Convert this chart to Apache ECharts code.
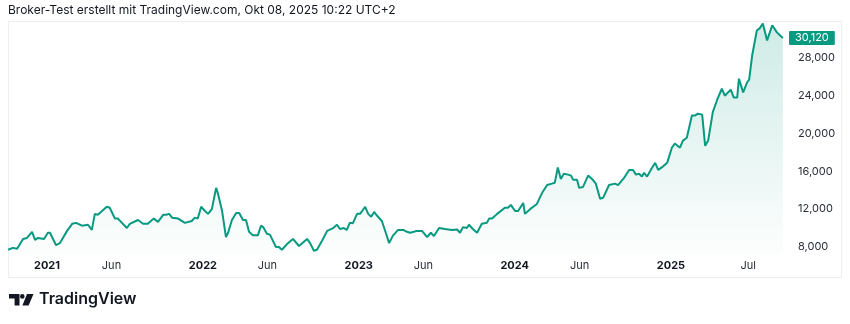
<!DOCTYPE html>
<html>
<head>
<meta charset="utf-8">
<script src="https://cdn.jsdelivr.net/npm/echarts@6/dist/echarts.min.js"></script>
<style>
html,body{margin:0;padding:0;background:#fff;}
#chart{width:850px;height:324px;}
</style>
</head>
<body>
<div id="chart"></div>
<script>
const dates = [
'2020-10-02','2020-10-13','2020-10-23','2020-11-06','2020-11-15','2020-11-27','2020-12-04','2020-12-11','2020-12-25',
'2021-01-03','2021-01-08','2021-01-22','2021-01-31','2021-02-17','2021-03-01','2021-03-10','2021-03-24','2021-04-07',
'2021-04-16','2021-04-23','2021-04-30','2021-05-21','2021-05-28','2021-06-09','2021-06-16','2021-07-07','2021-07-14',
'2021-08-02','2021-08-14','2021-08-25','2021-09-08','2021-09-18','2021-09-30','2021-10-07','2021-10-14','2021-10-21',
'2021-11-04','2021-11-20','2021-12-06','2021-12-13','2021-12-20','2021-12-28',
'2022-01-06','2022-01-13','2022-01-22','2022-02-01','2022-02-05','2022-02-15','2022-02-24','2022-03-01','2022-03-10',
'2022-03-20','2022-03-27','2022-04-05','2022-04-12','2022-04-19','2022-04-28','2022-05-10','2022-05-17','2022-05-22',
'2022-05-31','2022-06-07','2022-06-21','2022-06-28','2022-07-05','2022-07-17','2022-07-31','2022-08-14','2022-09-02',
'2022-09-09','2022-09-18','2022-09-25','2022-10-07','2022-10-19','2022-10-23','2022-11-02','2022-11-11','2022-11-18',
'2022-11-27','2022-12-04','2022-12-11','2022-12-18','2022-12-28',
'2023-01-04','2023-01-16','2023-01-23','2023-01-30','2023-02-06','2023-02-13','2023-02-17','2023-02-24','2023-03-06',
'2023-03-13','2023-03-22','2023-04-03','2023-04-15','2023-04-24','2023-05-01','2023-05-10','2023-05-17','2023-05-29',
'2023-06-10','2023-06-19','2023-06-26','2023-07-08','2023-07-22','2023-08-07','2023-08-19','2023-08-26','2023-09-02',
'2023-09-11','2023-09-16','2023-09-25','2023-10-05','2023-10-16','2023-10-28','2023-11-02','2023-11-09','2023-11-21',
'2023-12-09','2023-12-16','2023-12-23',
'2024-01-02','2024-01-09','2024-01-21','2024-01-25','2024-02-06','2024-02-22','2024-03-05','2024-03-17','2024-03-28',
'2024-04-04','2024-04-11','2024-04-18','2024-04-25','2024-05-05','2024-05-12','2024-05-17','2024-05-26','2024-05-31',
'2024-06-09','2024-06-21','2024-07-02','2024-07-09','2024-07-19','2024-07-26','2024-08-09','2024-08-23','2024-08-30',
'2024-09-13','2024-09-25','2024-10-04','2024-10-11','2024-10-18','2024-10-25','2024-10-30','2024-11-06','2024-11-18',
'2024-11-25','2024-12-02','2024-12-13','2024-12-23',
'2025-01-03','2025-01-10','2025-01-22','2025-01-29','2025-02-07','2025-02-19','2025-02-26','2025-03-05','2025-03-15',
'2025-03-22','2025-03-29','2025-04-09','2025-04-19','2025-04-30','2025-05-07','2025-05-21','2025-05-28','2025-06-05',
'2025-06-09','2025-06-19','2025-06-28','2025-07-03','2025-07-10','2025-07-14','2025-07-21','2025-07-28','2025-08-04',
'2025-08-14','2025-08-18','2025-08-26','2025-09-06','2025-09-13','2025-09-20'
];
const values = [
7700,7900,7800,8850,8950,9600,8750,8950,8850,
9500,9500,8200,8400,9700,10450,10550,10250,10350,
9800,11500,11400,12250,12150,11000,11000,10000,10450,
10850,10450,10450,11000,10650,11400,11400,11500,11100,
11000,10550,10750,11100,11000,12250,
11800,11500,12000,14250,13700,11800,9050,9500,10850,
11600,11600,10850,10850,9600,9250,9250,10250,10100,
9400,9300,8000,8000,7700,8300,8850,8100,8850,
8400,7600,7700,8650,9700,9600,10000,10350,9900,
10000,9800,10550,10500,11500,
11500,12250,11500,11200,11700,11300,11500,10750,9400,
8400,9200,9800,9800,9600,9500,9600,9700,9700,
9050,9500,9150,10000,9900,9800,9850,9500,10100,
10000,10350,9900,9500,10450,10550,11000,11000,11500,
12150,12150,12450,
11800,11800,12650,11500,12000,12550,13700,14550,14700,
14800,16400,15200,15750,15650,15550,15100,15100,14250,
14350,15550,15100,14700,13100,13200,14550,14700,14550,
15300,16150,16150,15650,15750,15450,15850,15450,16400,
16900,16150,16500,16900,
18500,18950,18500,19250,19550,21900,21900,22100,22000,
18700,19250,22300,23550,24750,24000,24650,23800,23800,
25800,24350,25400,25700,28250,28050,30900,31150,31650,
29850,29750,31450,30700,30400,30120
];
const xTickDates = ['2021-01-01','2021-06-01','2022-01-01','2022-06-01','2023-01-01','2023-06-01','2024-01-01','2024-06-01','2025-01-01','2025-07-01'];
const xTickLabels = ['2021','Jun','2022','Jun','2023','Jun','2024','Jun','2025','Jul'];
const yTickValues = [8000,12000,16000,20000,24000,28000];
const titleText = 'Broker-Test erstellt mit TradingView.com, Okt 08, 2025 10:22 UTC+2';

const ts = d => new Date(d + 'T00:00:00Z').getTime();
const seriesData = dates.map((d, i) => [ts(d), values[i]]);
const tickTs = xTickDates.map(ts);
const lastValue = values[values.length - 1];
const fmt = v => Math.round(v).toLocaleString('en-US');
const FONT = 'Inter, Roboto, sans-serif';

const chart = echarts.init(document.getElementById('chart'), null, {renderer: 'canvas'});
chart.setOption({
  animation: false,
  backgroundColor: '#ffffff',
  grid: {left: 8, right: 66, top: 22, height: 234.4},
  xAxis: {
    type: 'value',
    min: new Date('2020-10-01T17:00:00Z').getTime(),
    max: new Date('2025-09-22T14:00:00Z').getTime(),
    axisLine: {show: false},
    axisTick: {show: false},
    splitLine: {show: false},
    axisLabel: {
      customValues: tickTs,
      margin: 4,
      fontFamily: FONT,
      fontSize: 11,
      formatter: function (v) {
        let best = 0;
        tickTs.forEach((t, i) => { if (Math.abs(t - v) < Math.abs(tickTs[best] - v)) best = i; });
        const lab = xTickLabels[best];
        return /^\d{4}$/.test(lab) ? '{y|' + lab + '}' : '{m|' + lab + '}';
      },
      rich: {
        y: {fontFamily: FONT, fontSize: 11, fontWeight: 'bold', color: '#131722'},
        m: {fontFamily: FONT, fontSize: 11, color: '#2a2e39'}
      }
    }
  },
  yAxis: {
    type: 'value',
    position: 'right',
    min: 7000,
    max: 31800,
    axisLine: {show: false},
    axisTick: {show: false},
    splitLine: {show: false},
    axisLabel: {
      customValues: yTickValues,
      margin: 14,
      fontFamily: FONT,
      fontSize: 11,
      color: '#2a2e39',
      formatter: v => fmt(v)
    }
  },
  graphic: [
    {type: 'rect', z: -1, silent: true, shape: {x: 8.5, y: 21.5, width: 833, height: 256}, style: {fill: 'none', stroke: '#eceef2', lineWidth: 1}},
    {type: 'text', left: 8, top: 4, silent: true, style: {text: titleText, fontFamily: FONT, fontSize: 12, fill: '#131722'}},
    {type: 'polygon', silent: true, shape: {points: [[9,294],[19.5,294],[19.5,305.5],[14.6,305.5],[14.6,298.6],[9,298.6]]}, style: {fill: '#131722'}},
    {type: 'circle', silent: true, shape: {cx: 22.3, cy: 296.4, r: 2.3}, style: {fill: '#131722'}},
    {type: 'polygon', silent: true, shape: {points: [[27,294],[33.5,294],[28.6,305.5],[22.4,305.5]]}, style: {fill: '#131722'}},
    {type: 'text', left: 39, top: 291, silent: true, style: {text: 'TradingView', fontFamily: FONT, fontSize: 16, fontWeight: 600, fill: '#131722'}}
  ],
  series: [{
    type: 'line',
    clip: false,
    data: seriesData,
    showSymbol: false,
    symbol: 'none',
    lineStyle: {color: '#089981', width: 2},
    areaStyle: {
      color: new echarts.graphic.LinearGradient(0, 0, 0, 1, [
        {offset: 0, color: 'rgba(8,153,129,0.28)'},
        {offset: 1, color: 'rgba(8,153,129,0.01)'}
      ])
    },
    markLine: {
      silent: true,
      symbol: 'none',
      lineStyle: {color: 'rgba(0,0,0,0)', width: 0, type: 'solid'},
      data: [{yAxis: lastValue}],
      label: {
        show: true,
        position: 'end',
        distance: 5,
        formatter: () => fmt(lastValue),
        backgroundColor: '#089981',
        color: '#ffffff',
        fontFamily: FONT,
        fontSize: 11,
        padding: [2, 6, 1, 6],
        borderRadius: 1
      }
    }
  }]
});
</script>
</body>
</html>
